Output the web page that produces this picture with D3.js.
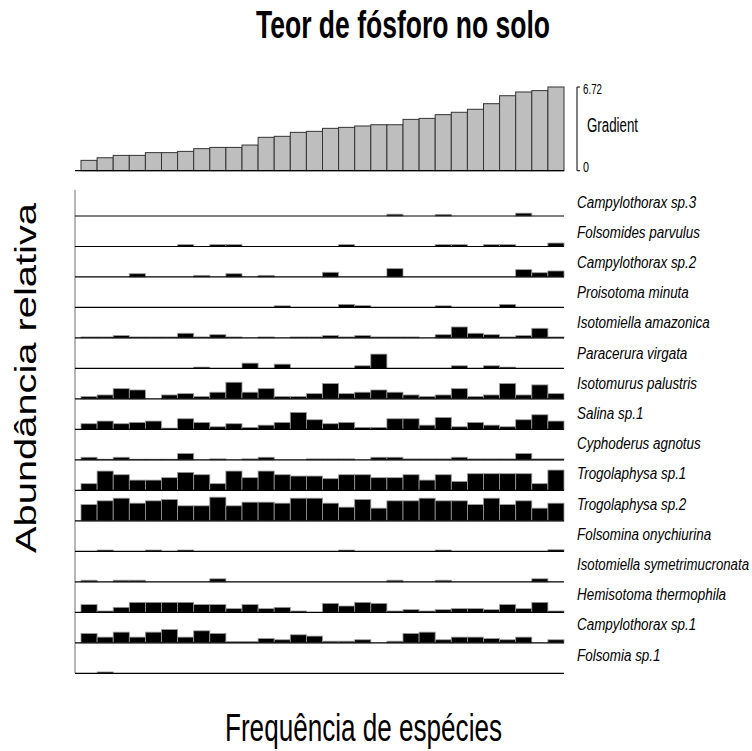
<!DOCTYPE html>
<html>
<head>
<meta charset="utf-8">
<script src="https://cdn.jsdelivr.net/npm/d3@7"></script>
<style>
  body { margin: 0; background: #fff; }
  text { font-family: "Liberation Sans", Arial, sans-serif; }
</style>
</head>
<body>
<div id="chart"></div>
<script>
// phosphorus gradient, one value per sample (sorted)
var gradient = [0.83, 1.04, 1.23, 1.23, 1.45, 1.45, 1.55, 1.77, 1.87, 1.87,
                2.06, 2.68, 2.76, 3.08, 3.16, 3.40, 3.48, 3.59, 3.69, 3.69,
                4.12, 4.20, 4.50, 4.69, 4.93, 5.38, 6.02, 6.32, 6.43, 6.72];
var gradientMax = 6.72;

var species = ["Campylothorax sp.3", "Folsomides parvulus", "Campylothorax sp.2", "Proisotoma minuta",
               "Isotomiella amazonica", "Paracerura virgata", "Isotomurus palustris", "Salina sp.1",
               "Cyphoderus agnotus", "Trogolaphysa sp.1", "Trogolaphysa sp.2", "Folsomina onychiurina",
               "Isotomiella symetrimucronata", "Hemisotoma thermophila", "Campylothorax sp.1", "Folsomia sp.1"];

// relative abundance (%) per sample
var campylothoraxSp3 = [0,0,0,0,0,0,0,0,0,0, 0,0,0,0,0,0,0,0,0,1.8, 0,0,1.6,0,0,0,0,2.8,0,0];
var folsomidesParvulus = [0,0,0,0,0,0,1.8,0,1.8,1.8, 0,0,0,0,0,0,1.8,0,0,0, 0,0,1.8,1.8,0,1.8,1.8,0,0,3.4];
var campylothoraxSp2 = [0,0,0,3.2,0,0,0,1.6,0,3.2, 0,1.6,0,0,0,4.6,0,0,0,8.2, 0,0,0,0,0,0,0,7.2,4.2,5.9];
var proisotomaMinuta = [0,0,0,0,0,0,0,0,0,0, 0,0,1.6,0,0,0,3,1.8,0,0, 0,0,1.6,0,0,0,3,0,0,0];
var isotomiellaAmazonica = [1,1,2.3,1,1,1,4.6,1,3.2,1, 0,1,0,1,1,2.3,1,2.3,1,1, 1,0,3.2,10.8,4.6,3.2,1,2.3,9.5,1];
var paraceruraVirgata = [0,0,0,0,0,0,0,1.3,0,0, 5.2,0,4.2,0,0,0,0,2.6,14.1,0, 0,0,0,2.6,0,2.6,1.3,0,0,0];
var isotomurusPalustris = [2.3,3.9,10.1,8.8,0,3.9,5.2,2.3,6.6,16.4, 6.6,10.1,2.3,2.3,5.2,15.1,5.2,6.6,8.8,6.6, 3.9,2.3,3.9,10.1,2.3,3.9,15.1,3.9,13.8,5.2];
var salinaSp1 = [5.6,8.2,5.6,6.9,8.2,1.3,10.5,6.9,2.6,5.6, 2,4.2,6.9,16.7,9.5,5.6,6.9,2,2,10.5, 10.5,4.2,11.8,2.6,6.9,4.2,2.6,9.5,14.4,8.2];
var cyphoderusAgnotus = [2.6,0.7,2.6,0.7,0.7,0.7,6.2,0,1,0, 1,2.6,0,0,1,1,1,0,2.6,2.6, 1,1,1,2.6,1,1,1,6.2,1,1];
var trogolaphysaSp1 = [6.6,19,15.4,10.1,10.1,12.5,17.7,15.4,6.6,19, 12.5,19,15.4,14.1,14.1,11.5,15.4,15.4,12.5,12.5, 15.4,10.1,15.4,8.8,16.4,16.4,16.4,16.4,6.6,20];
var trogolaphysaSp2 = [16,19.7,22.3,17.4,19.7,21,14.8,14.8,23.3,14.8, 18.4,18.4,17.4,22.3,22.3,17.4,13.5,21,12.5,19.7, 19.7,22.3,19.7,19.7,16,22.3,16,19.7,12.5,17.4];
var folsominaOnychiurina = [0,1.3,0,0,1.3,0,1.3,0,0,0, 0,0,0,0,0,0,1.3,0,0,0, 0,0,1.3,0,0,0,0,0,0,1.6];
var isotomiellaSymetrimucronata = [1.6,0,1.6,1.6,0,0,0,0,3,0, 0,0,0,0,0,0,0,0,0,1.6, 0,0,1.6,0,0,0,0,0,3,0];
var hemisotomaThermophila = [7.6,1.3,4.9,9.8,9.8,9.8,9.8,7.6,7.6,3.6, 7.6,3.6,4.9,1.3,0,8.8,6.2,9.8,8.8,1.3, 2.6,1.3,2.6,3.6,3.6,2.6,7.6,3.6,9.8,1.3];
var campylothoraxSp1 = [9.2,5.6,10.5,5.6,10.5,13.1,5.6,11.8,9.2,1.3, 1.3,4.2,3,7.9,6.6,1.6,1.6,3,0,1.6, 9.2,10.5,3,5.6,5.6,4.2,3,5.6,0,3];
var folsomiaSp1 = [0,1.3,0,0,0,0,0,0,0,0, 0,0,0,0,0,0,0,0,0,0, 0,0,0,0,0,0,0,0,0,0];

var abundance = [campylothoraxSp3, folsomidesParvulus, campylothoraxSp2, proisotomaMinuta,
                 isotomiellaAmazonica, paraceruraVirgata, isotomurusPalustris, salinaSp1,
                 cyphoderusAgnotus, trogolaphysaSp1, trogolaphysaSp2, folsominaOnychiurina,
                 isotomiellaSymetrimucronata, hemisotomaThermophila, campylothoraxSp1, folsomiaSp1];

var width = 752, height = 751;
var svg = d3.select("#chart").append("svg").attr("width", width).attr("height", height);

var x = d3.scaleBand().domain(d3.range(gradient.length)).range([81, 564]).padding(0);

// ---- gradient panel
var yg = d3.scaleLinear().domain([0, gradientMax]).range([170.7, 87]);

svg.append("g").selectAll("rect")
    .data(gradient)
    .enter().append("rect")
    .attr("x", function (d, i) { return x(i); })
    .attr("y", function (d) { return yg(d); })
    .attr("width", x.bandwidth())
    .attr("height", function (d) { return yg(0) - yg(d); })
    .attr("fill", "#bebebe")
    .attr("stroke", "#333")
    .attr("stroke-width", 1);

svg.append("line")
    .attr("x1", 75).attr("x2", 564)
    .attr("y1", yg(0)).attr("y2", yg(0))
    .attr("stroke", "#000").attr("stroke-width", 1.2);

var gAxis = svg.append("g").attr("transform", "translate(577,0)");
gAxis.append("path")
    .attr("d", "M3," + yg(gradientMax) + "H0V" + yg(0) + "H3")
    .attr("fill", "none").attr("stroke", "#000").attr("stroke-width", 1);
gAxis.append("text").attr("x", 6).attr("y", yg(gradientMax) + 7).attr("font-size", 14)
    .attr("textLength", 19).attr("lengthAdjust", "spacingAndGlyphs").text("6.72");
gAxis.append("text").attr("x", 6).attr("y", yg(0) + 1).attr("font-size", 14)
    .attr("textLength", 6).attr("lengthAdjust", "spacingAndGlyphs").text("0");
gAxis.append("text").attr("x", 10).attr("y", 132).attr("font-size", 20)
    .attr("textLength", 51).attr("lengthAdjust", "spacingAndGlyphs").text("Gradient");

// ---- species panel
var rowBase = d3.scaleLinear().domain([0, species.length - 1]).range([216, 673.3]);
var rowH = d3.scaleLinear().domain([0, 30]).range([0, 30.5]);
var labelY = d3.scaleLinear().domain([0, species.length - 1]).range([207.5, 660.5]);

svg.append("line")
    .attr("x1", 75).attr("x2", 75).attr("y1", 190).attr("y2", rowBase(species.length - 1))
    .attr("stroke", "#888").attr("stroke-width", 1.2);

var rows = svg.selectAll(".row")
    .data(abundance)
    .enter().append("g")
    .attr("class", "row")
    .attr("transform", function (d, i) { return "translate(0," + rowBase(i) + ")"; });

rows.selectAll("rect")
    .data(function (d) { return d.map(function (v, j) { return { v: v, j: j }; }).filter(function (e) { return e.v > 0; }); })
    .enter().append("rect")
    .attr("x", function (d) { return x(d.j); })
    .attr("y", function (d) { return -rowH(d.v); })
    .attr("width", x.bandwidth())
    .attr("height", function (d) { return rowH(d.v); })
    .attr("fill", "#000")
    .attr("stroke", "#9a9a9a")
    .attr("stroke-width", 0.8);

rows.append("line")
    .attr("x1", 75).attr("x2", 564).attr("y1", 0).attr("y2", 0)
    .attr("stroke", "#000").attr("stroke-width", 1.2);

// condensed italic labels: small font stretched vertically
var squeeze = 0.79;
svg.append("g").selectAll("text")
    .data(species)
    .enter().append("text")
    .attr("transform", function (d, i) { return "translate(577," + labelY(i) + ") scale(1," + (1 / squeeze) + ")"; })
    .attr("font-size", 17 * squeeze)
    .attr("font-style", "italic")
    .text(function (d) { return d; })
    .each(function () {
        var w = this.getComputedTextLength();
        if (w > width - 577 - 3) {
            d3.select(this).attr("textLength", width - 577 - 3).attr("lengthAdjust", "spacingAndGlyphs");
        }
    });

// ---- titles
svg.append("text")
    .attr("x", 403).attr("y", 38)
    .attr("text-anchor", "middle")
    .attr("font-size", 38).attr("font-weight", "bold")
    .attr("textLength", 294).attr("lengthAdjust", "spacingAndGlyphs")
    .text("Teor de fósforo no solo");

svg.append("text")
    .attr("x", 225).attr("y", 741)
    .attr("font-size", 38)
    .attr("textLength", 277).attr("lengthAdjust", "spacingAndGlyphs")
    .text("Frequência de espécies");

svg.append("text")
    .attr("transform", "translate(36,378) rotate(-90)")
    .attr("text-anchor", "middle")
    .attr("font-size", 29)
    .attr("textLength", 350).attr("lengthAdjust", "spacingAndGlyphs")
    .text("Abundância relativa");
</script>
</body>
</html>
